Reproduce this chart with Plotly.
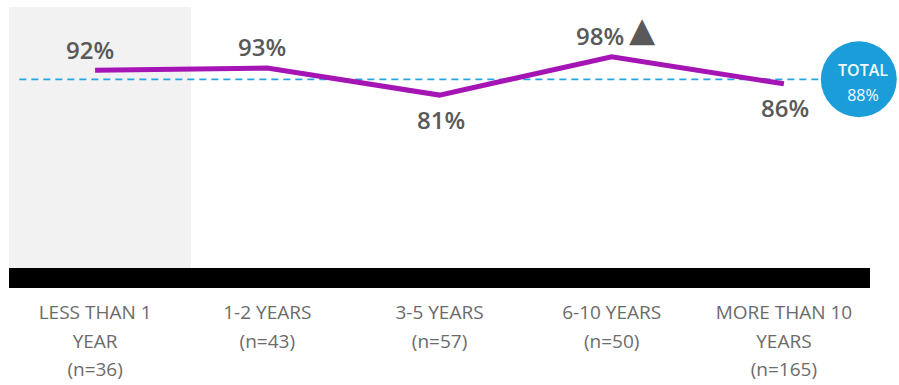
import plotly.graph_objects as go

# Satisfaction by tenure
category_lines = [
    ["LESS THAN 1", "YEAR", "(n=36)"],
    ["1-2 YEARS", "(n=43)"],
    ["3-5 YEARS", "(n=57)"],
    ["6-10 YEARS", "(n=50)"],
    ["MORE THAN 10", "YEARS", "(n=165)"],
]
values = [92, 93, 81, 98, 86]
total = 88
# label placement: True = above the point, False = below
label_above = [True, True, False, True, False]
significant = [False, False, False, True, False]

LINE = "#A514B5"
GREY_TXT = "#595959"
TICK_TXT = "#6B6B6B"
BLUE = "#1B9DD9"

x = list(range(len(category_lines)))

# the large base font sets the line pitch, the span sets the glyph size
ticktext = ["<br>".join(f"<span style='font-size:19px'>{ln}</span>" for ln in lines)
            for lines in category_lines]

fig = go.Figure()

fig.add_trace(go.Scatter(
    x=x, y=values, mode="lines",
    line=dict(color=LINE, width=5),
    hoverinfo="skip", showlegend=False,
))

annotations = []
for i, v in enumerate(values):
    annotations.append(dict(
        x=i, y=v, xref="x", yref="y", text=f"{v}%", showarrow=False,
        xanchor="center", yanchor="middle",
        yshift=21 if label_above[i] else -24,
        xshift=(-12 if significant[i] else -5) if label_above[i] else 1,
        font=dict(family="Open Sans", size=24, color=GREY_TXT, weight=600),
    ))
    if significant[i]:
        annotations.append(dict(
            x=i, y=v, xref="x", yref="y", text="▲", showarrow=False,
            xanchor="center", yanchor="middle", xshift=31, yshift=28,
            font=dict(family="DejaVu Sans", size=34, color=GREY_TXT),
        ))

# total badge
annotations.append(dict(
    x=0.987, y=total, xref="paper", yref="y", showarrow=False,
    xanchor="center", yanchor="middle", xshift=4, yshift=-3,
    text=(f"<span style='font-size:16px;font-weight:600'>TOTAL</span><br>"
          f"<span style='font-size:16px'>{total}%</span>"),
    font=dict(family="Open Sans", size=19, color="#F2FAFF"),
))

shapes = [
    # highlighted first category
    dict(type="rect", xref="x", yref="y", x0=-0.5, x1=0.557, y0=0, y1=120,
         fillcolor="#F2F2F2", line_width=0, layer="below"),
    # total reference line
    dict(type="line", xref="x", yref="y", x0=-0.44, x1=4.45, y0=total, y1=total,
         line=dict(color="#29A3DD", width=1.8, dash="7px,5px"), layer="below"),
    # baseline bar
    dict(type="rect", xref="x", yref="y", x0=-0.5, x1=4.5, y0=-4.4, y1=4.4,
         fillcolor="black", line_width=0, layer="above"),
    # total circle
    dict(type="circle", xref="paper", yref="y", x0=0.987 - 0.0441, x1=0.987 + 0.0441,
         y0=total - 16.8, y1=total + 16.8, fillcolor=BLUE, line_width=0, layer="above"),
]

fig.update_layout(
    width=899, height=385,
    margin=dict(l=9, r=29, t=7, b=97),
    paper_bgcolor="white", plot_bgcolor="white",
    shapes=shapes, annotations=annotations,
    xaxis=dict(
        range=[-0.5, 4.5], tickmode="array", tickvals=x, ticktext=ticktext,
        showgrid=False, zeroline=False, showline=False, ticks="",
        tickfont=dict(family="Open Sans", size=22, color=TICK_TXT),
        ticklabelstandoff=8, automargin=False, fixedrange=True,
    ),
    yaxis=dict(range=[-4.4, 120], visible=False, fixedrange=True),
    showlegend=False,
)

fig.write_html("out.html")
